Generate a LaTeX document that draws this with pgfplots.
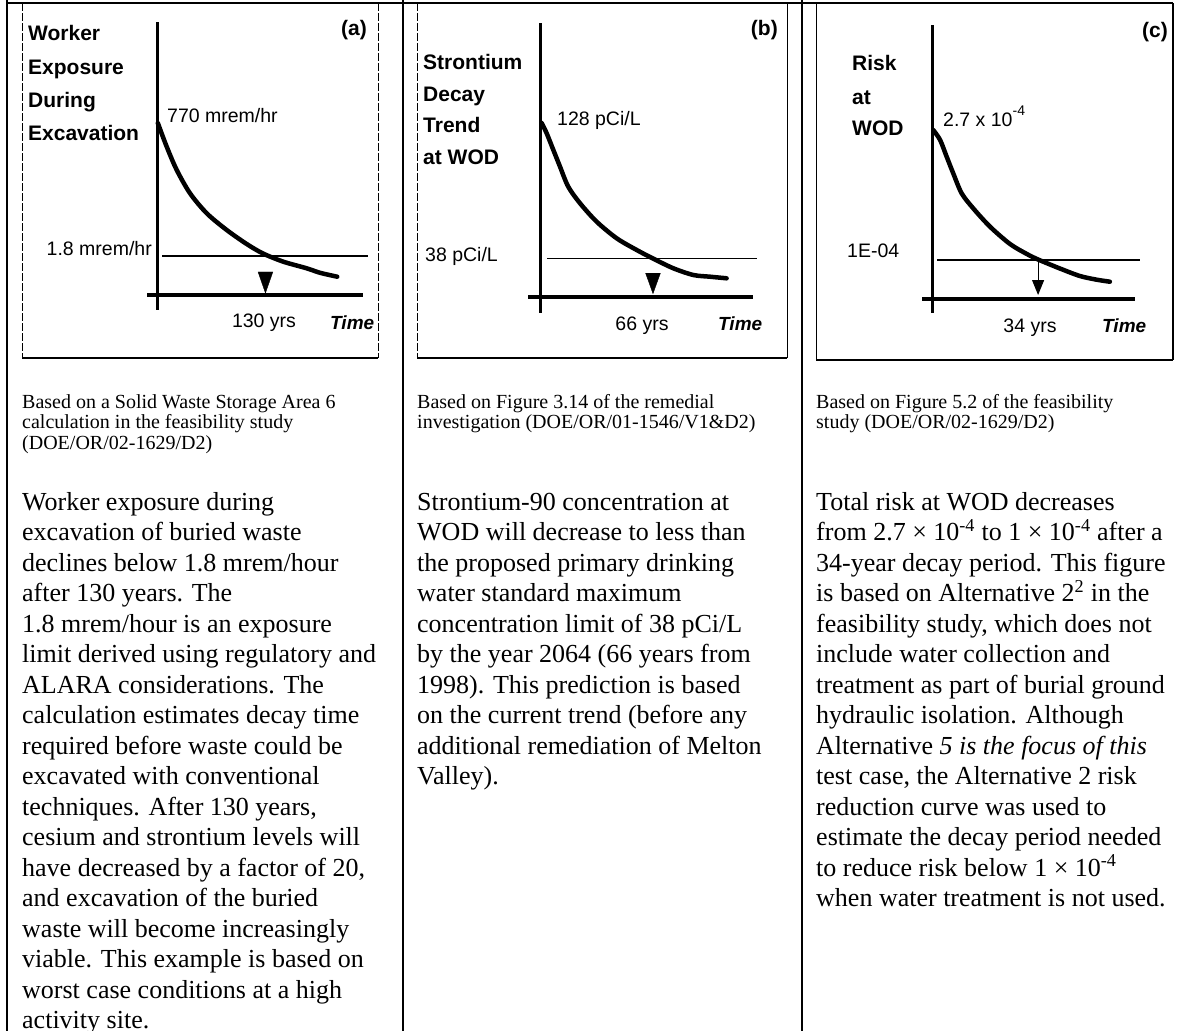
\documentclass[border=0pt]{standalone}
\usepackage{pgfplots}
\pgfplotsset{compat=1.18}
\usepackage{fontspec}
\setmainfont{Liberation Serif}
\newfontfamily\arial{Liberation Sans}
\usetikzlibrary{arrows.meta}
\newcommand{\lbl}{\arial\fontsize{21}{25}\selectfont\bfseries}
\newcommand{\tlbl}{\arial\fontsize{19}{23}\selectfont\bfseries\itshape}
\newcommand{\val}{\arial\fontsize{19.5}{23}\selectfont}
\newcommand{\capf}{\fontsize{20}{24}\selectfont}
\newcommand{\para}{\fontsize{26}{30}\selectfont}
\begin{document}
\begin{tikzpicture}[x=1pt,y=-1pt]
\useasboundingbox (0,0) rectangle (1187,1031);
% ---------- frame ----------
\draw[line width=2pt] (7,3) -- (1173,3);
\foreach \x in {7,403,802} \draw[line width=2pt] (\x,0) -- (\x,1031);
\draw[line width=0.9pt, dash pattern=on 8pt off 2pt] (22,3) -- (22,358);
\draw[line width=0.9pt, dash pattern=on 8pt off 2pt] (378,3) -- (378,358);
\draw[line width=2pt] (22,358) -- (378,358);
\draw[line width=0.9pt, dash pattern=on 8pt off 2pt] (417,3) -- (417,358);
\draw[line width=0.9pt] (787,3) -- (787,358);
\draw[line width=2pt] (417,358) -- (787,358);
\draw[line width=0.9pt] (816,3) -- (816,360);
\draw[line width=1.2pt] (1173,3) -- (1173,360);
\draw[line width=2pt] (816,360) -- (1173,360);

% ---------- panel (a) ----------
\begin{axis}[at={(140pt,-315pt)}, anchor=south west, width=235pt, height=295pt,
  scale only axis, hide axis, clip=false,
  xmin=-20.85, xmax=267.35, ymin=-20, ymax=275]
\draw[line width=3pt] (axis cs:0,273) -- (axis cs:0,-15);
\draw[line width=3.5pt] (axis cs:-12.26,0) -- (axis cs:252.6,0);
\addplot[line width=1.3pt] coordinates {(6.13,39) (258.8,39)};
\addplot[line width=4.5pt, smooth, line cap=round] coordinates {
 (1,172) (11.9,148.3) (24.2,125) (40.5,101.7) (61,81.7) (85.5,65)
 (110,51) (130,41.5) (155,33.3) (183.6,26.7) (200,22.2) (221,18.3)};
\addplot[only marks, mark=triangle*, mark size=8.5pt,
  mark options={rotate=180, yscale=1.65, fill=black}] coordinates {(133,16)};
\end{axis}
\node[anchor=base west, inner sep=0, font=\lbl] at (28,40.5) {Worker};
\node[anchor=base west, inner sep=0, font=\lbl] at (28,74.5) {Exposure};
\node[anchor=base west, inner sep=0, font=\lbl] at (28,107.5) {During};
\node[anchor=base west, inner sep=0, font=\lbl] at (28,140.5) {Excavation};
\node[anchor=base east, inner sep=0, font=\lbl] at (367,35) {(a)};
\node[anchor=base west, inner sep=0, font=\val] at (167,122) {770 mrem/hr};
\node[anchor=base east, inner sep=0, font=\val] at (152,255) {1.8 mrem/hr};
\node[anchor=base, inner sep=0, font=\val] at (264,327) {130 yrs};
\node[anchor=base west, inner sep=0, font=\tlbl] at (330,329) {Time};

% ---------- panel (b) ----------
\begin{axis}[at={(520pt,-320pt)}, anchor=south west, width=245pt, height=300pt,
  scale only axis, hide axis, clip=false,
  xmin=-11.68, xmax=131.43, ymin=-23, ymax=277]
\draw[line width=3pt] (axis cs:0,274) -- (axis cs:0,-16);
\draw[line width=3.5pt] (axis cs:-7.0,0) -- (axis cs:124.4,0);
\addplot[line width=1pt] coordinates {(4.09,39) (126.75,39)};
\addplot[line width=4.5pt, smooth, line cap=round] coordinates {
 (1,174) (3.9,163.7) (7.8,147) (11.7,130.3) (16.5,110.3) (23.4,93.7)
 (33.1,75.3) (44.8,58.7) (56.5,47) (66,38.5) (77.9,28.7) (89.6,22)
 (99.3,20.3) (109,18.7)};
\addplot[only marks, mark=triangle*, mark size=8.5pt,
  mark options={rotate=180, yscale=1.6, fill=black}] coordinates {(66,17)};
\end{axis}
\node[anchor=base west, inner sep=0, font=\lbl] at (423,69) {Strontium};
\node[anchor=base west, inner sep=0, font=\lbl] at (423,101) {Decay};
\node[anchor=base west, inner sep=0, font=\lbl] at (423,132.5) {Trend};
\node[anchor=base west, inner sep=0, font=\lbl] at (423,164) {at WOD};
\node[anchor=base east, inner sep=0, font=\lbl] at (778,35) {(b)};
\node[anchor=base west, inner sep=0, font=\val] at (557,125) {128 pCi/L};
\node[anchor=base west, inner sep=0, font=\val] at (425,261) {38 pCi/L};
\node[anchor=base, inner sep=0, font=\val] at (642,330) {66 yrs};
\node[anchor=base west, inner sep=0, font=\tlbl] at (718,330) {Time};

% ---------- panel (c) ----------
\begin{axis}[at={(915pt,-320pt)}, anchor=south west, width=235pt, height=300pt,
  scale only axis, hide axis, clip=false,
  xmin=-5.449, xmax=69.87, ymin=-21, ymax=279]
\draw[line width=3pt] (axis cs:0,274) -- (axis cs:0,-14);
\draw[line width=4.5pt] (axis cs:-3.2,0) -- (axis cs:65.06,0);
\addplot[line width=1.3pt] coordinates {(1.6,39) (66.67,39)};
\addplot[line width=4.5pt, smooth, line cap=round] coordinates {
 (0.4,169) (2.6,159) (4.7,142.3) (6.8,125.7) (9.5,105.7) (13.2,90.7)
 (18.6,72.3) (25,55) (30.4,45) (34,39.5) (41,30.5) (47.4,23)
 (52.8,19.3) (57,17.3)};
\draw[line width=1pt, -{Triangle[width=12pt,length=15pt]}] (axis cs:34,37) -- (axis cs:34,4);
\end{axis}
\node[anchor=base west, inner sep=0, font=\lbl] at (852,70.5) {Risk};
\node[anchor=base west, inner sep=0, font=\lbl] at (852,104.5) {at};
\node[anchor=base west, inner sep=0, font=\lbl] at (852,135.5) {WOD};
\node[anchor=base east, inner sep=0, font=\lbl] at (1168,37) {(c)};
\node[anchor=base west, inner sep=0, font=\val] at (943,126) {2.7 x 10\raisebox{0.55em}{\fontsize{14}{14}\selectfont -4}};
\node[anchor=base west, inner sep=0, font=\val] at (847,257) {1E-04};
\node[anchor=base, inner sep=0, font=\val] at (1030,332) {34 yrs};
\node[anchor=base west, inner sep=0, font=\tlbl] at (1102,332) {Time};

% ---------- captions ----------
\foreach \t [count=\i from 0] in {{Based on a Solid Waste Storage Area 6},{calculation in the feasibility study},{(DOE/OR/02-1629/D2)}}
  \node[anchor=base west, inner sep=0, font=\capf] at (22,{408+20.5*\i}) {\t};
\foreach \t [count=\i from 0] in {{Based on Figure 3.14 of the remedial},{investigation (DOE/OR/01-1546/V1\&D2)}}
  \node[anchor=base west, inner sep=0, font=\capf] at (417,{408+20.5*\i}) {\t};
\foreach \t [count=\i from 0] in {{Based on Figure 5.2 of the feasibility},{study (DOE/OR/02-1629/D2)}}
  \node[anchor=base west, inner sep=0, font=\capf] at (816,{408+20.5*\i}) {\t};

% ---------- paragraphs ----------
\foreach \t [count=\i from 0] in {{Worker exposure during},{excavation of buried waste},{declines below 1.8 mrem/hour},{after 130 years.  The},{1.8 mrem/hour is an exposure},{limit derived using regulatory and},{ALARA considerations.  The},{calculation estimates decay time},{required before waste could be},{excavated with conventional},{techniques.  After 130 years,},{cesium and strontium levels will},{have decreased by a factor of 20,},{and excavation of the buried},{waste will become increasingly},{viable.  This example is based on},{worst case conditions at a high},{activity site.}}
  \node[anchor=base west, inner sep=0, font=\para] at (22,{510+30.5*\i}) {\t};
\foreach \t [count=\i from 0] in {{Strontium-90 concentration at},{WOD will decrease to less than},{the proposed primary drinking},{water standard maximum},{concentration limit of 38 pCi/L},{by the year 2064 (66 years from},{1998).  This prediction is based},{on the current trend (before any},{additional remediation of Melton},{Valley).}}
  \node[anchor=base west, inner sep=0, font=\para] at (417,{510+30.5*\i}) {\t};
\foreach \t [count=\i from 0] in {{Total risk at WOD decreases},{from 2.7 × 10\textsuperscript{-4} to 1 × 10\textsuperscript{-4} after a},{34-year decay period.  This figure},{is based on Alternative 2\textsuperscript{2} in the},{feasibility study, which does not},{include water collection and},{treatment as part of burial ground},{hydraulic isolation.  Although},{Alternative \textit{5 is the focus of this}},{test case, the Alternative 2 risk},{reduction curve was used to},{estimate the decay period needed},{to reduce risk below 1 × 10\textsuperscript{-4}},{when water treatment is not used.}}
  \node[anchor=base west, inner sep=0, font=\para] at (816,{510+30.5*\i}) {\t};
\end{tikzpicture}
\end{document}
